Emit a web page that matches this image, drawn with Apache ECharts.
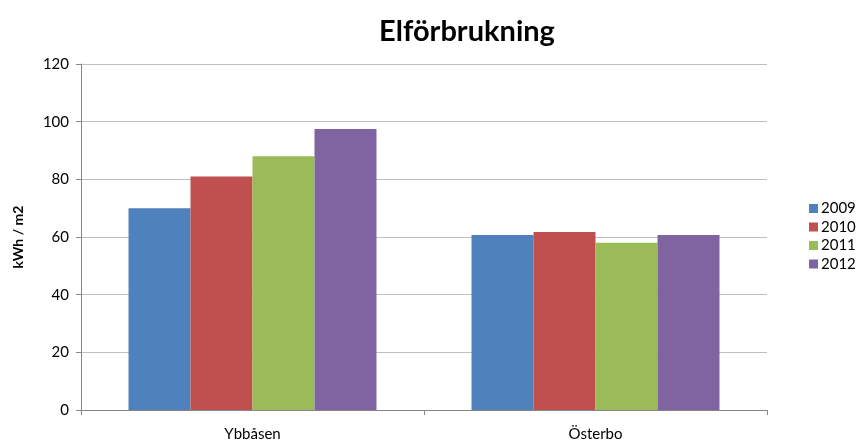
<!DOCTYPE html>
<html>
<head>
<meta charset="utf-8">
<script src="https://cdn.jsdelivr.net/npm/echarts@6/dist/echarts.min.js"></script>
<style>
    html, body { margin: 0; padding: 0; background: #fff; }
    #echarts { width: 859px; height: 443px; }
</style>
</head>
<body>
<div id="echarts"></div>
<script>
    var categories = ['Ybbåsen', 'Österbo']
    var years = ['2009', '2010', '2011', '2012']
    var values2009 = [70, 60.7]
    var values2010 = [81, 61.7]
    var values2011 = [88, 58]
    var values2012 = [97.5, 60.7]
    var yTicks = { min: 0, max: 120, interval: 20 }

    var colors = ['#4f81bd', '#c0504d', '#9bbb59', '#8064a2']
    var allValues = [values2009, values2010, values2011, values2012]
    var font = 'Lato, "Open Sans", sans-serif'

    var chart = echarts.init(document.getElementById('echarts'))

    var series = []
    for (var i = 0; i < years.length; i++) {
        series.push({
            name: years[i],
            type: 'bar',
            data: allValues[i],
            barGap: '0%',
            barCategoryGap: '27.7%',
            itemStyle: { color: colors[i] }
        })
    }

    var option = {
        animation: false,
        color: colors,
        title: {
            text: 'Elförbrukning',
            left: 462,
            top: 12,
            textAlign: 'center',
            textStyle: { fontFamily: font, fontSize: 29, fontWeight: 'bold', color: '#000' }
        },
        legend: {
            orient: 'vertical',
            left: 804,
            top: 196,
            itemWidth: 9,
            itemHeight: 9,
            itemGap: 3.5,
            icon: 'rect',
            textStyle: { fontFamily: font, fontSize: 15, lineHeight: 15, color: '#000', padding: [0, 0, 0, -2] },
            data: years
        },
        grid: { left: 81, right: 92, top: 64, bottom: 33 },
        xAxis: {
            type: 'category',
            data: categories,
            axisLine: { lineStyle: { color: '#868686' } },
            axisTick: { show: true, length: 5, lineStyle: { color: '#868686' } },
            axisLabel: { fontFamily: font, fontSize: 15, color: '#000', margin: 17 }
        },
        yAxis: {
            type: 'value',
            min: yTicks.min,
            max: yTicks.max,
            interval: yTicks.interval,
            name: 'kWh / m2',
            nameLocation: 'middle',
            nameGap: 56,
            nameTextStyle: { fontFamily: font, fontSize: 14, fontWeight: 'bold', color: '#000' },
            axisLine: { show: true, lineStyle: { color: '#868686' } },
            axisTick: { show: true, length: 5, lineStyle: { color: '#868686' } },
            axisLabel: { fontFamily: font, fontSize: 15, color: '#000', margin: 12 },
            splitLine: { lineStyle: { color: '#bfbfbf' } }
        },
        series: series
    }

    chart.setOption(option)
</script>
</body>
</html>
